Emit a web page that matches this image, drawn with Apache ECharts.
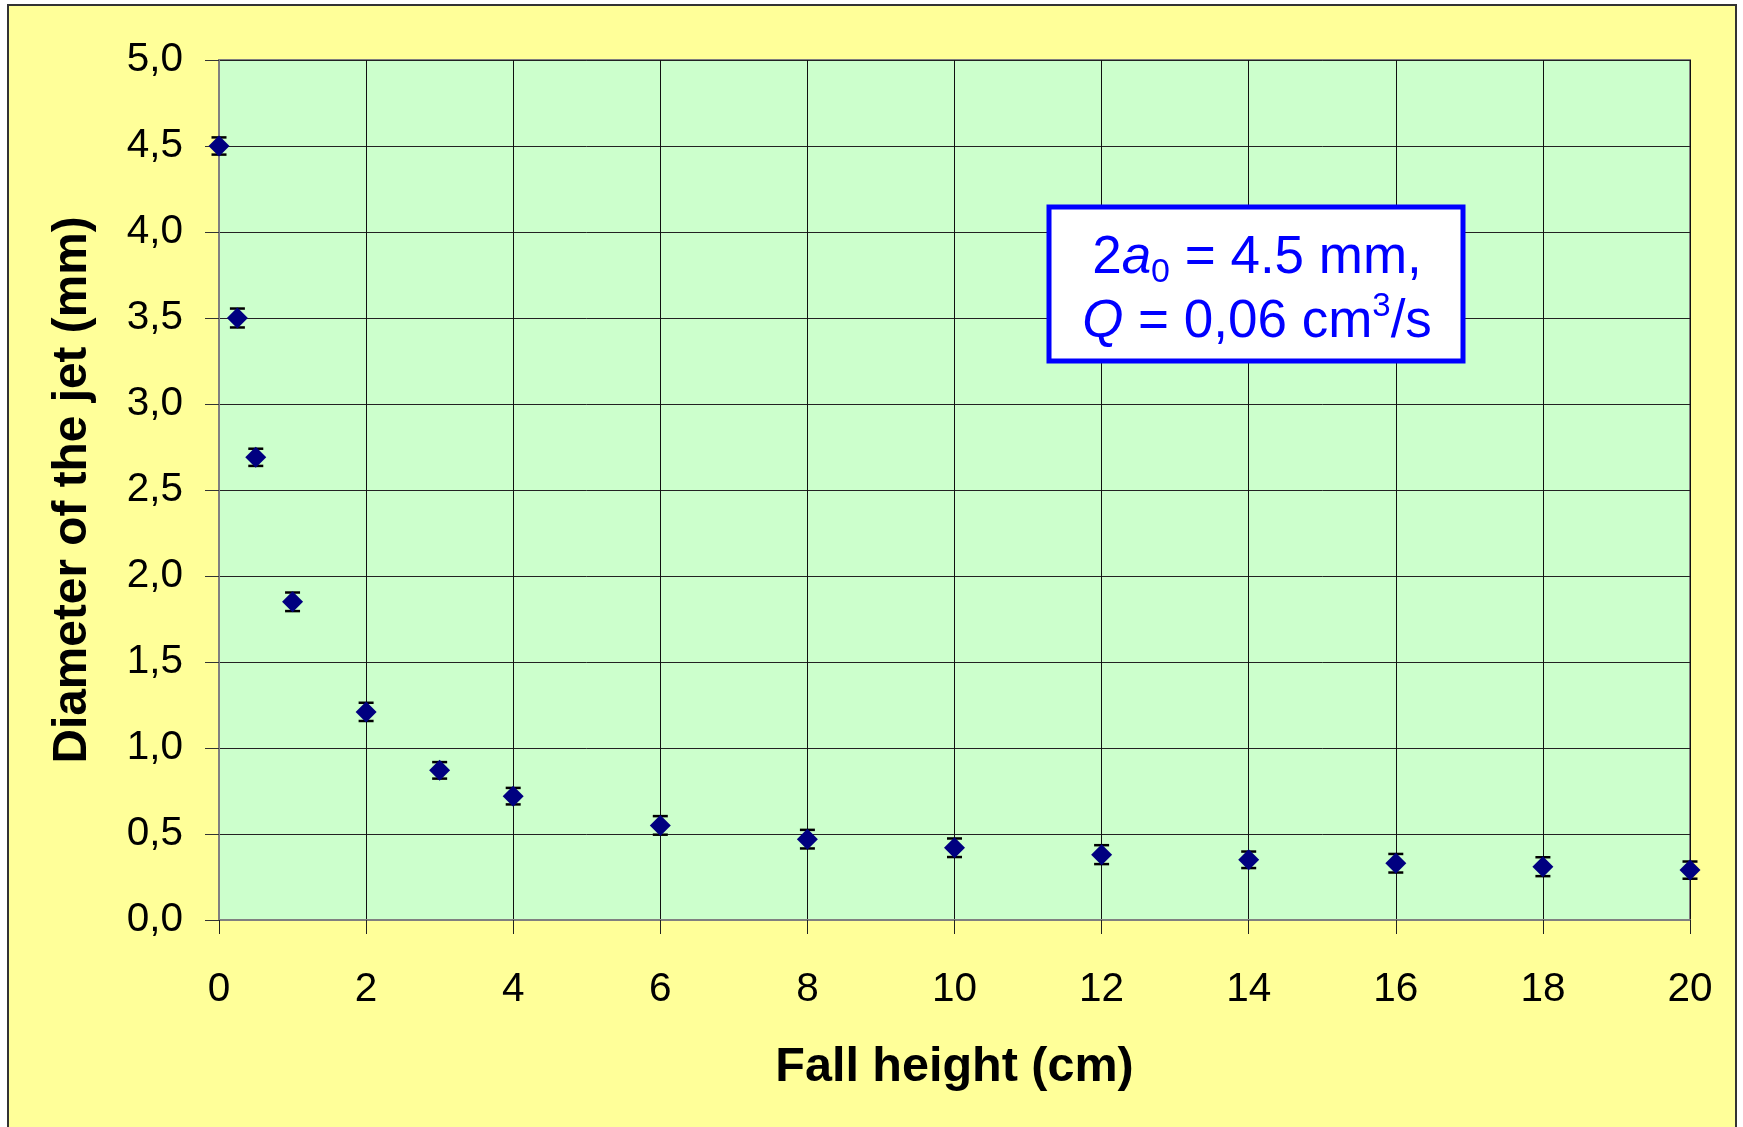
<!DOCTYPE html>
<html>
<head>
<meta charset="utf-8">
<title>Diameter of the jet vs fall height</title>
<script src="https://cdn.jsdelivr.net/npm/echarts@6/dist/echarts.min.js"></script>
<style>
  html, body { margin: 0; padding: 0; background: #ffffff; }
  #frame {
    position: absolute; left: 7px; top: 4px; width: 1730px; height: 1130px;
    background: #FFFF99; border: 2px solid #333333; box-sizing: border-box;
  }
  #chart { position: absolute; left: 0; top: 0; width: 1743px; height: 1127px; }
</style>
</head>
<body>
<div id="frame"></div>
<div id="chart"></div>
<script>
// Fall height (cm)
const fallHeight = [0, 0.25, 0.5, 1, 2, 3, 4, 6, 8, 10, 12, 14, 16, 18, 20];
// Measured jet diameter (mm)
const diameter = [4.50, 3.50, 2.69, 1.85, 1.21, 0.87, 0.72, 0.55, 0.47, 0.42, 0.38, 0.35, 0.33, 0.31, 0.29];
// Half-width of the error bar (mm)
const diameterErr = [0.05, 0.055, 0.05, 0.054, 0.053, 0.048, 0.048, 0.054, 0.054, 0.054, 0.055, 0.048, 0.054, 0.055, 0.05];
// Tick labels
const yTickLabels = ['0,0', '0,5', '1,0', '1,5', '2,0', '2,5', '3,0', '3,5', '4,0', '4,5', '5,0'];
const xTickLabels = ['0', '2', '4', '6', '8', '10', '12', '14', '16', '18', '20'];

const FONT = "'Liberation Sans', Arial, Helvetica, sans-serif";

const points = fallHeight.map((x, i) => [x, diameter[i]]);
const errData = fallHeight.map((x, i) => [x, diameter[i], diameterErr[i]]);

const chart = echarts.init(document.getElementById('chart'), null, { renderer: 'canvas' });

const option = {
  backgroundColor: 'transparent',
  animation: false,
  grid: {
    left: 219, top: 60, right: 53, bottom: 207,
    show: true, backgroundColor: '#CCFFCC', borderColor: '#808080', borderWidth: 2
  },
  xAxis: {
    type: 'value', min: 0, max: 20, interval: 2,
    name: 'Fall height (cm)', nameLocation: 'middle', nameGap: 123,
    nameTextStyle: { fontFamily: FONT, fontSize: 48.5, fontWeight: 'bold', color: '#000' },
    axisLine: { show: true, lineStyle: { color: '#808080', width: 2 } },
    axisTick: { show: true, inside: false, length: 14, lineStyle: { color: '#222', width: 1 } },
    axisLabel: {
      margin: 49, fontFamily: FONT, fontSize: 40.5, color: '#000',
      formatter: v => xTickLabels[Math.round(v / 2)]
    },
    splitLine: { show: true, lineStyle: { color: '#111', width: 1 } }
  },
  yAxis: {
    type: 'value', min: 0, max: 5, interval: 0.5,
    name: 'Diameter of the jet (mm)', nameLocation: 'middle', nameGap: 122, nameRotate: 90,
    nameTextStyle: { fontFamily: FONT, fontSize: 47.8, fontWeight: 'bold', color: '#000' },
    axisLine: { show: true, lineStyle: { color: '#808080', width: 2 } },
    axisTick: { show: true, inside: false, length: 14, lineStyle: { color: '#333', width: 1 } },
    axisLabel: {
      margin: 36, fontFamily: FONT, fontSize: 40.5, color: '#000',
      formatter: v => yTickLabels[Math.round(v / 0.5)]
    },
    splitLine: { show: true, lineStyle: { color: '#222', width: 1 } }
  },
  series: [
    {
      // vertical error bars with caps
      type: 'custom',
      z: 2,
      data: errData,
      renderItem: function (params, api) {
        const x = api.value(0), y = api.value(1), e = api.value(2);
        const hi = api.coord([x, y + e]);
        const lo = api.coord([x, y - e]);
        const half = 7.5;
        return {
          type: 'group',
          children: [
            { type: 'line', shape: { x1: hi[0], y1: hi[1], x2: lo[0], y2: lo[1] },
              style: { stroke: '#000', lineWidth: 1.5 } },
            { type: 'line', shape: { x1: hi[0] - half, y1: hi[1], x2: hi[0] + half, y2: hi[1] },
              style: { stroke: '#000', lineWidth: 2.5 } },
            { type: 'line', shape: { x1: lo[0] - half, y1: lo[1], x2: lo[0] + half, y2: lo[1] },
              style: { stroke: '#000', lineWidth: 2.5 } }
          ]
        };
      }
    },
    {
      type: 'scatter',
      z: 3,
      data: points,
      symbol: 'diamond',
      symbolSize: 21,
      itemStyle: { color: '#000080', opacity: 1 },
      emphasis: { disabled: true }
    }
  ],
  graphic: [
    {
      type: 'rect',
      z: 10,
      shape: { x: 1049, y: 207, width: 414, height: 154 },
      style: { fill: '#ffffff', stroke: '#0000FF', lineWidth: 5 }
    },
    {
      type: 'text',
      z: 11,
      style: {
        x: 1257, y: 290,
        align: 'center', verticalAlign: 'middle',
        text: '{m|2}{i|a}{sub|0}{m| = 4.5 mm,}\n{i|Q}{m| = 0,06 cm}{sup|3}{m|/s}',
        rich: {
          m: { fontFamily: FONT, fontSize: 53, lineHeight: 64, fill: '#0000FF', color: '#0000FF' },
          i: { fontFamily: FONT, fontSize: 53, fontStyle: 'italic', lineHeight: 64, fill: '#0000FF', color: '#0000FF' },
          sub: { fontFamily: FONT, fontSize: 34, lineHeight: 24, verticalAlign: 'bottom', fill: '#0000FF', color: '#0000FF' },
          sup: { fontFamily: FONT, fontSize: 33, lineHeight: 52, verticalAlign: 'top', fill: '#0000FF', color: '#0000FF' }
        }
      }
    }
  ]
};

chart.setOption(option);
</script>
</body>
</html>
